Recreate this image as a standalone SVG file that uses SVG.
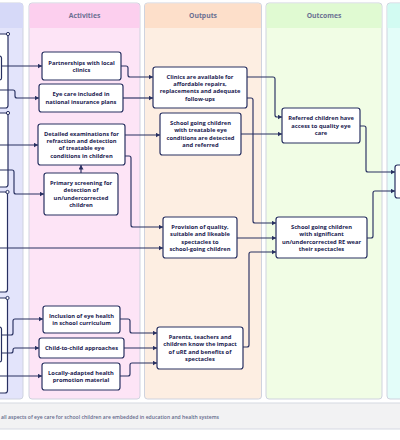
<svg xmlns="http://www.w3.org/2000/svg" width="400" height="440" viewBox="0 0 400 440">
<defs>
<marker id="arr" markerUnits="userSpaceOnUse" markerWidth="6" markerHeight="6" refX="4.5" refY="2.5" orient="auto">
<path d="M0,0 L4.5,2.5 L0,5 z" fill="#283061"/>
</marker>
</defs>
<style>
.lane{stroke:#cfd3df;stroke-width:1}
.hdr{font-family:"Open Sans","Liberation Sans",sans-serif;font-weight:700;font-size:6.8px;fill:#6b7092;text-anchor:middle}
.node rect,.box{fill:#ffffff;stroke:#283061;stroke-width:1.2}
.node text{font-family:"Open Sans","Liberation Sans",sans-serif;font-weight:700;font-size:5.75px;fill:#1a2150;text-anchor:middle}
.conn path{fill:none;stroke:#283061;stroke-width:1.15;stroke-linejoin:round}
.conn .a{marker-end:url(#arr)}
.dot{fill:#ffffff;stroke:#283061;stroke-width:1}
</style>
<rect width="400" height="440" fill="#ffffff"/>

<!-- lanes -->
<g id="lanes">
<rect class="lane" x="-10" y="3" width="33" height="396" rx="3" fill="#e3e4fb"/>
<path d="M-10,28 V6 a3,3 0 0 1 3,-3 H20 a3,3 0 0 1 3,3 V28 z" fill="#d6d9f8"/>
<rect class="lane" x="29" y="3" width="111" height="396" rx="3" fill="#fde4f6"/>
<path d="M29.5,28 V6 a2.5,2.5 0 0 1 2.5,-2.5 H137 a2.5,2.5 0 0 1 2.5,2.5 V28 z" fill="#fccfee"/>
<rect class="lane" x="144.5" y="3" width="117" height="396" rx="3" fill="#fdeee2"/>
<path d="M145,28 V6 a2.5,2.5 0 0 1 2.5,-2.5 H258.5 a2.5,2.5 0 0 1 2.5,2.5 V28 z" fill="#fddfca"/>
<rect class="lane" x="266" y="3" width="116" height="396" rx="3" fill="#f1fde5"/>
<path d="M266.5,28 V6 a2.5,2.5 0 0 1 2.5,-2.5 H379 a2.5,2.5 0 0 1 2.5,2.5 V28 z" fill="#e0fad2"/>
<rect class="lane" x="387" y="3" width="30" height="396" rx="3" fill="#e3fdf9"/>
<path d="M387.5,28 V6 a2.5,2.5 0 0 1 2.5,-2.5 H417 V28 z" fill="#d2fbf2"/>
<text class="hdr" x="84.5" y="17.5">Activities</text>
<text class="hdr" x="203" y="17.5">Outputs</text>
<text class="hdr" x="324" y="17.5">Outcomes</text>
</g>

<!-- banner -->
<g id="banner">
<rect x="-5" y="403" width="410" height="26" fill="#f2f2f3" stroke="#d6d9e2" stroke-width="1"/>
<text x="1" y="418.5" textLength="218" lengthAdjust="spacingAndGlyphs" font-family="Open Sans, Liberation Sans, sans-serif" font-weight="600" font-size="4.9" fill="#646a8c">all aspects of eye care for school children are embedded in education and health systems</text>
</g>

<!-- left cut-off boxes -->
<g id="left-boxes">
<rect class="box" x="-10" y="34" width="18" height="74" rx="2.5"/>
<rect class="box" x="-10" y="113" width="18" height="74" rx="2.5"/>
<rect class="box" x="-10" y="192" width="17.5" height="100" rx="2.5"/>
<rect class="box" x="-10" y="298" width="17.5" height="95" rx="2.5"/>
<rect class="box" x="-10" y="56" width="11.5" height="24" rx="2"/>
<rect class="box" x="-10" y="327" width="11.5" height="35" rx="2"/>
<circle class="dot" cx="8" cy="34" r="1.6"/>
<circle class="dot" cx="8" cy="113" r="1.6"/>
<circle class="dot" cx="7.5" cy="192" r="1.6"/>
<circle class="dot" cx="7.5" cy="298" r="1.6"/>
</g>

<!-- connectors -->
<g id="connectors" class="conn">
<path class="a" d="M1.5,66 H42"/>
<path class="a" d="M0,90 H13 Q15,90 15,92 V96 Q15,98 17,98 H39"/>
<path class="a" d="M0,145 H38"/>
<path class="a" d="M0,170 H12 Q14,170 14,172 V192 Q14,194 16,194 H44"/>
<path class="a" d="M0,248 H163"/>
<path class="a" d="M1.5,335 H11 Q13,335 13,333 V321 Q13,319 15,319 H43"/>
<path class="a" d="M1.5,353 H11 Q13,353 13,351 V350 Q13,348 15,348 H39"/>
<path class="a" d="M0,376 H42"/>
<path class="a" d="M121,66 H126 Q128,66 128,68 V75 Q128,77 130,77 H153"/>
<path class="a" d="M123,98 H153"/>
<path class="a" d="M125,135 H160"/>
<path class="a" d="M125,156 H129 Q131,156 131,158 V225 Q131,227 133,227 H163"/>
<path class="a" d="M81,173 V165"/>
<path class="a" d="M247,77 H273 Q275,77 275,79 V115 Q275,117 277,117 H282"/>
<path class="a" d="M241,134 H282"/>
<path class="a" d="M247,98 H251 Q253,98 253,100 V221 Q253,223 255,223 H276"/>
<path class="a" d="M237,238 H276"/>
<path class="a" d="M243,347 H247 Q249,347 249,345 V254 Q249,252 251,252 H276"/>
<path class="a" d="M120,319 H128 Q130,319 130,321 V331 Q130,333 132,333 H157"/>
<path class="a" d="M124,348 H157"/>
<path class="a" d="M120,376 H128 Q130,376 130,374 V365 Q130,363 132,363 H157"/>
<path class="a" d="M360,126 H364 Q366,126 366,128 V170 Q366,172 368,172 H395"/>
<path class="a" d="M367,238 H371 Q373,238 373,236 V193 Q373,191 375,191 H395"/>
</g>

<!-- activities -->
<g id="partnerships" class="node">
<rect x="42" y="52" width="79" height="28" rx="2.5"/>
<text x="81.5" y="64.6">Partnerships with local</text>
<text x="81.5" y="71.9">clinics</text>
</g>
<g id="eye-care-insurance" class="node">
<rect x="39" y="84" width="84" height="28" rx="2.5"/>
<text x="81" y="96.4">Eye care included in</text>
<text x="81" y="103.7">national insurance plans</text>
</g>
<g id="detailed-examinations" class="node">
<rect x="38" y="124" width="87" height="41" rx="2.5"/>
<text x="81.5" y="135.6">Detailed examinations for</text>
<text x="81.5" y="142.9">refraction and detection</text>
<text x="81.5" y="150.2">of treatable eye</text>
<text x="81.5" y="157.5">conditions in children</text>
</g>
<g id="primary-screening" class="node">
<rect x="44" y="173" width="74" height="42" rx="2.5"/>
<text x="81" y="185.1">Primary screening for</text>
<text x="81" y="192.4">detection of</text>
<text x="81" y="199.7">un/undercorrected</text>
<text x="81" y="207">children</text>
</g>
<g id="inclusion-curriculum" class="node">
<rect x="43" y="306" width="77" height="27" rx="2.5"/>
<text x="81.5" y="317.9">Inclusion of eye health</text>
<text x="81.5" y="325.2">in school curriculum</text>
</g>
<g id="child-to-child" class="node">
<rect x="39" y="338" width="85" height="20" rx="2.5"/>
<text x="81.5" y="350">Child-to-child approaches</text>
</g>
<g id="locally-adapted" class="node">
<rect x="42" y="363" width="78" height="27" rx="2.5"/>
<text x="81" y="374.9">Locally-adapted health</text>
<text x="81" y="382.2">promotion material</text>
</g>

<!-- outputs -->
<g id="clinics-available" class="node">
<rect x="153" y="67" width="94" height="41" rx="2.5"/>
<text x="200" y="78.6">Clinics are available for</text>
<text x="200" y="85.9">affordable repairs,</text>
<text x="200" y="93.2">replacements and adequate</text>
<text x="200" y="100.5">follow-ups</text>
</g>
<g id="children-detected" class="node">
<rect x="160" y="113" width="81" height="42" rx="2.5"/>
<text x="200.5" y="125.1">School going children</text>
<text x="200.5" y="132.4">with treatable eye</text>
<text x="200.5" y="139.7">conditions are detected</text>
<text x="200.5" y="147">and referred</text>
</g>
<g id="provision-spectacles" class="node">
<rect x="163" y="217" width="74" height="41" rx="2.5"/>
<text x="200" y="229.1">Provision of quality,</text>
<text x="200" y="236.4">suitable and likeable</text>
<text x="200" y="243.7">spectacles to</text>
<text x="200" y="251">school-going children</text>
</g>
<g id="parents-know" class="node">
<rect x="157" y="327" width="86" height="42" rx="2.5"/>
<text x="200" y="339.1">Parents, teachers and</text>
<text x="200" y="346.4">children know the impact</text>
<text x="200" y="353.7">of uRE and benefits of</text>
<text x="200" y="361">spectacles</text>
</g>

<!-- outcomes -->
<g id="referred-access" class="node">
<rect x="282" y="108" width="78" height="35" rx="2.5"/>
<text x="321" y="120.2">Referred children have</text>
<text x="321" y="127.5">access to quality eye</text>
<text x="321" y="134.8">care</text>
</g>
<g id="children-wear" class="node">
<rect x="276" y="217" width="91" height="41" rx="2.5"/>
<text x="321.5" y="229.1">School going children</text>
<text x="321.5" y="236.4">with significant</text>
<text x="321.5" y="243.7">un/undercorrected RE wear</text>
<text x="321.5" y="251">their spectacles</text>
</g>

<!-- right cut-off -->
<g id="impact-box" class="node">
<rect x="395" y="165" width="30" height="33" rx="2.5"/>
</g>
</svg>
